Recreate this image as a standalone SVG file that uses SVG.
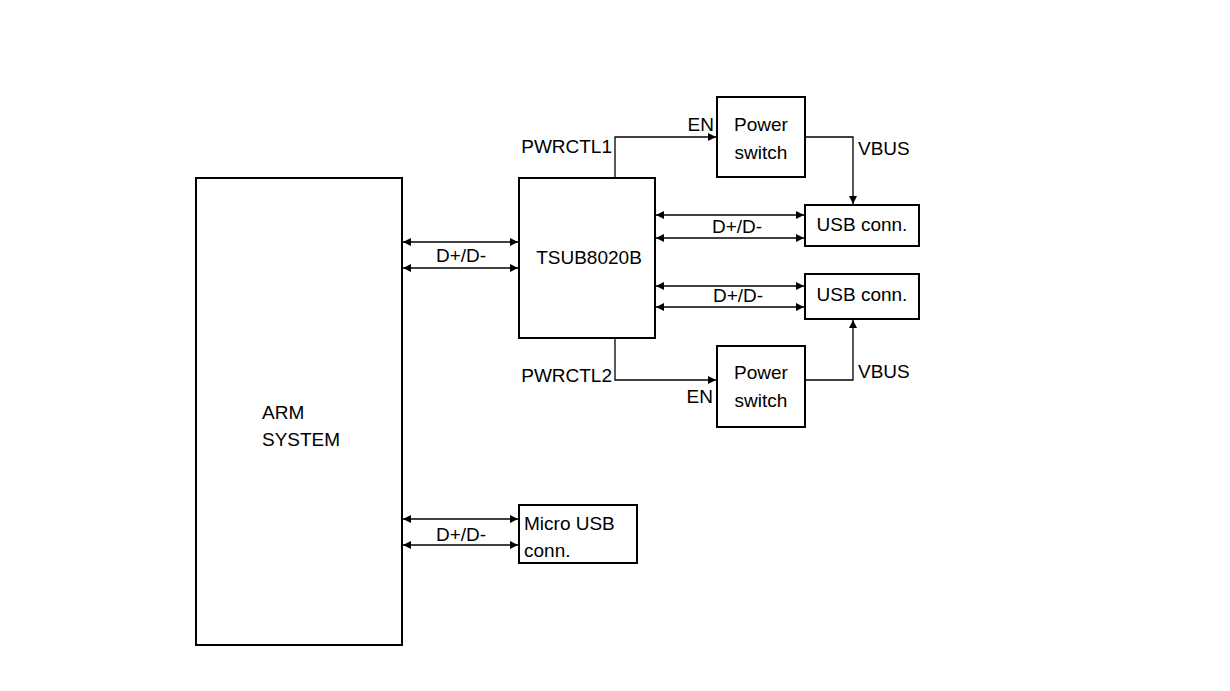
<svg xmlns="http://www.w3.org/2000/svg" width="1230" height="691" viewBox="0 0 1230 691">
<defs>
<marker id="ah" viewBox="0 0 10 10" refX="10" refY="5" markerWidth="8" markerHeight="8" markerUnits="userSpaceOnUse" orient="auto-start-reverse">
<path d="M0,0 L10,5 L0,10 z" fill="#000"/>
</marker>
</defs>
<style>
.box{fill:#fff;stroke:#000;stroke-width:2}
.ln{fill:none;stroke:#000;stroke-width:1.3}
.bi{marker-start:url(#ah);marker-end:url(#ah)}
.one{marker-end:url(#ah)}
text{font-family:"Liberation Sans",Arial,sans-serif;font-size:19px;fill:#000}
.m{text-anchor:middle}
.e{text-anchor:end}
</style>
<rect width="1230" height="691" fill="#fff"/>
<g id="connectors">
<line class="ln bi" x1="403" y1="242" x2="518" y2="242"/>
<line class="ln bi" x1="403" y1="268" x2="518" y2="268"/>
<text class="m" x="461" y="262">D+/D-</text>
<line class="ln bi" x1="656" y1="215" x2="804" y2="215"/>
<line class="ln bi" x1="656" y1="238" x2="804" y2="238"/>
<text class="m" x="737" y="233">D+/D-</text>
<line class="ln bi" x1="656" y1="286" x2="804" y2="286"/>
<line class="ln bi" x1="656" y1="307" x2="804" y2="307"/>
<text class="m" x="738" y="302">D+/D-</text>
<line class="ln bi" x1="403" y1="519" x2="518" y2="519"/>
<line class="ln bi" x1="403" y1="545" x2="518" y2="545"/>
<text class="m" x="461" y="541">D+/D-</text>
<polyline class="ln one" points="615,178 615,137 716,137"/>
<text class="e" x="612" y="153">PWRCTL1</text>
<text class="e" x="714" y="131">EN</text>
<polyline class="ln one" points="806,137 853,137 853,204"/>
<text x="858" y="155">VBUS</text>
<polyline class="ln one" points="615,339 615,380 716,380"/>
<text class="e" x="612" y="382">PWRCTL2</text>
<text class="e" x="713" y="403">EN</text>
<polyline class="ln one" points="806,380 853,380 853,320"/>
<text x="858" y="378">VBUS</text>
</g>
<g id="arm">
<rect class="box" x="196" y="178" width="206" height="467"/>
<text x="262" y="419">ARM</text>
<text x="262" y="446">SYSTEM</text>
</g>
<g id="tsub">
<rect class="box" x="519" y="178" width="136" height="160"/>
<text class="m" x="589" y="264">TSUB8020B</text>
</g>
<g id="ps1">
<rect class="box" x="717" y="97" width="88" height="80"/>
<text class="m" x="761" y="131">Power</text>
<text class="m" x="761" y="159">switch</text>
</g>
<g id="ps2">
<rect class="box" x="717" y="346" width="88" height="81"/>
<text class="m" x="761" y="379">Power</text>
<text class="m" x="761" y="407">switch</text>
</g>
<g id="usb1">
<rect class="box" x="805" y="205" width="114" height="41"/>
<text class="m" x="862" y="231">USB conn.</text>
</g>
<g id="usb2">
<rect class="box" x="805" y="274" width="114" height="45"/>
<text class="m" x="862" y="301">USB conn.</text>
</g>
<g id="micro">
<rect class="box" x="519" y="505" width="118" height="58"/>
<text x="524" y="530">Micro USB</text>
<text x="524" y="557">conn.</text>
</g>
</svg>
